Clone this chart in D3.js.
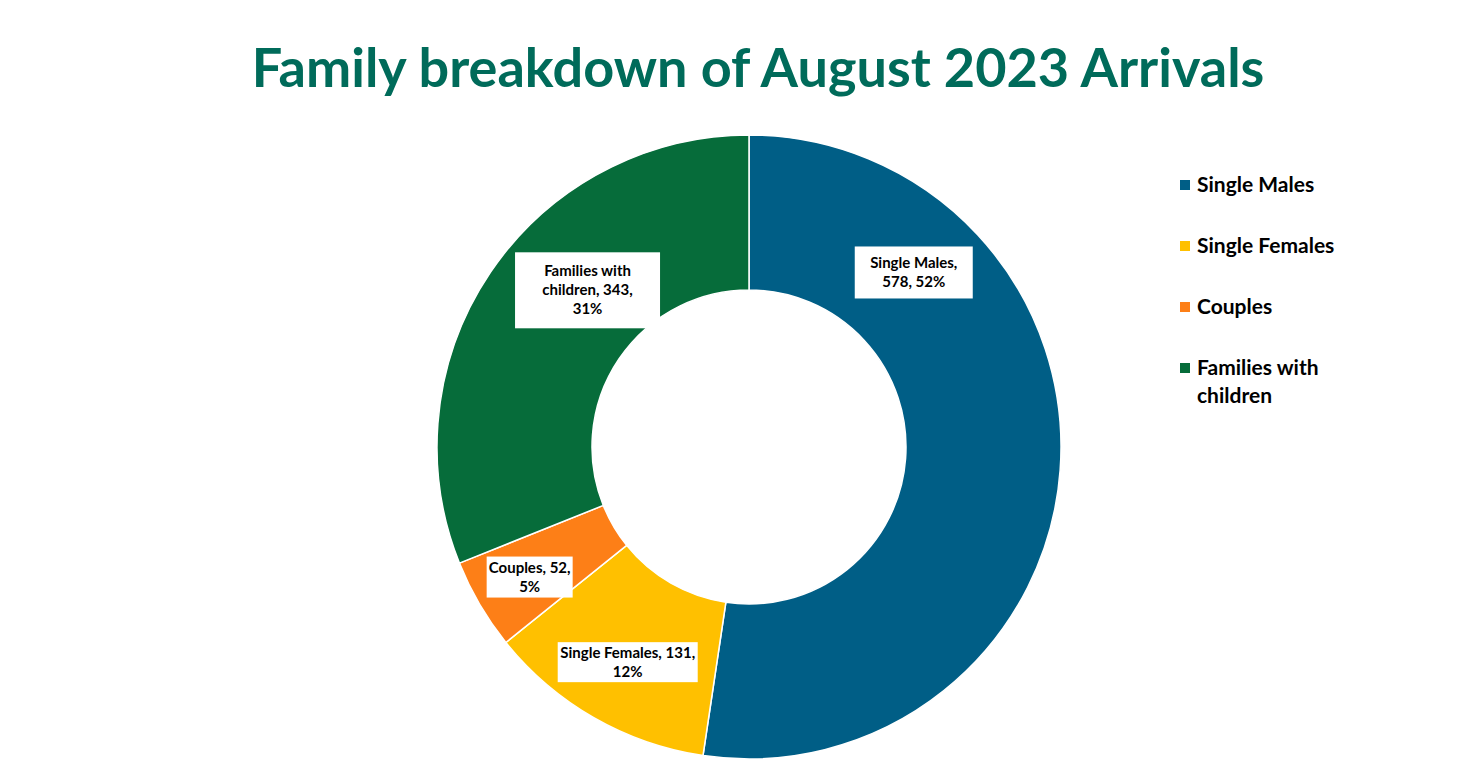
<!DOCTYPE html>
<html lang="en">
<head>
    <meta charset="UTF-8">
    <title>Family breakdown of August 2023 Arrivals</title>
    <script src="https://d3js.org/d3.v7.min.js"></script>
    <style>
        body { margin: 0; background: #fff; }
        text { font-family: Lato, "Open Sans", sans-serif; font-weight: bold; }
    </style>
</head>
<body>
    <script>
        const categories = ["Single Males", "Single Females", "Couples", "Families with children"];
        const values = [578, 131, 52, 343];
        const colors = ["#005E86", "#FFC000", "#FD7F17", "#066C3A"];
        // where the data label sits along its slice (0 = start, 1 = end) and how far out
        const labelFrac = [0.23, 0.49, 0.48, 0.59];
        const labelRadius = [240, 247, 255, 225];
        const labelWrap = [100, 145, 95, 105];
        const labelBox = [[118, 52], [140, 40], [86, 41], [145, 76]];

        const w = 1457;
        const h = 768;
        const cx = 749;
        const cy = 447;
        const outerR = 312;
        const innerR = 157;

        const svg = d3.select("body")
                      .append("svg")
                      .attr("width", w)
                      .attr("height", h);

        svg.append("text")
           .attr("x", 758)
           .attr("y", 87)
           .attr("text-anchor", "middle")
           .attr("fill", "#006B5A")
           .style("font-size", "54px")
           .text("Family breakdown of August 2023 Arrivals");

        const total = d3.sum(values);
        const pie = d3.pie().sort(null)(values);
        const arc = d3.arc().innerRadius(innerR).outerRadius(outerR);

        const g = svg.append("g").attr("transform", "translate(" + cx + "," + cy + ")");

        g.selectAll("path")
         .data(pie)
         .enter()
         .append("path")
         .attr("d", arc)
         .attr("fill", (d, i) => colors[i])
         .attr("stroke", "#fff")
         .attr("stroke-width", 1.5);

        // data labels in white boxes
        pie.forEach((d, i) => {
            const a = d.startAngle + (d.endAngle - d.startAngle) * labelFrac[i];
            const x = Math.sin(a) * labelRadius[i];
            const y = -Math.cos(a) * labelRadius[i];
            const txt = categories[i] + ", " + values[i] + ", " + Math.round(values[i] / total * 100) + "%";

            const lg = g.append("g").attr("transform", "translate(" + x + "," + y + ")");
            lg.append("rect")
              .attr("fill", "#fff")
              .attr("x", -labelBox[i][0] / 2)
              .attr("y", -labelBox[i][1] / 2)
              .attr("width", labelBox[i][0])
              .attr("height", labelBox[i][1]);
            const t = lg.append("text")
                        .attr("text-anchor", "middle")
                        .attr("fill", "#000")
                        .style("font-size", "15px");

            // simple word wrap
            const words = txt.split(" ");
            let lines = [];
            let line = "";
            words.forEach(wd => {
                const test = line ? line + " " + wd : wd;
                t.text(test);
                if (t.node().getComputedTextLength() > labelWrap[i] && line) {
                    lines.push(line);
                    line = wd;
                } else {
                    line = test;
                }
            });
            lines.push(line);
            t.text(null);

            const lh = 19;
            const y0 = -(lines.length - 1) * lh / 2 + 5;
            lines.forEach((l, k) => {
                t.append("tspan").attr("x", 0).attr("y", y0 + k * lh).text(l);
            });
        });

        // legend
        const legend = svg.append("g").attr("transform", "translate(1180,185)");
        const items = legend.selectAll("g")
                            .data(categories)
                            .enter()
                            .append("g")
                            .attr("transform", (d, i) => "translate(0," + i * 61 + ")");

        items.append("rect")
             .attr("x", 0)
             .attr("y", -5)
             .attr("width", 10)
             .attr("height", 10)
             .attr("fill", (d, i) => colors[i]);

        items.append("text")
             .attr("x", 17)
             .attr("y", 7)
             .attr("fill", "#000")
             .style("font-size", "21px")
             .each(function (d) {
                 const el = d3.select(this);
                 if (d === "Families with children") {
                     el.append("tspan").attr("x", 17).attr("y", 7).text("Families with");
                     el.append("tspan").attr("x", 17).attr("y", 35).text("children");
                 } else {
                     el.text(d);
                 }
             });
    </script>
</body>
</html>
